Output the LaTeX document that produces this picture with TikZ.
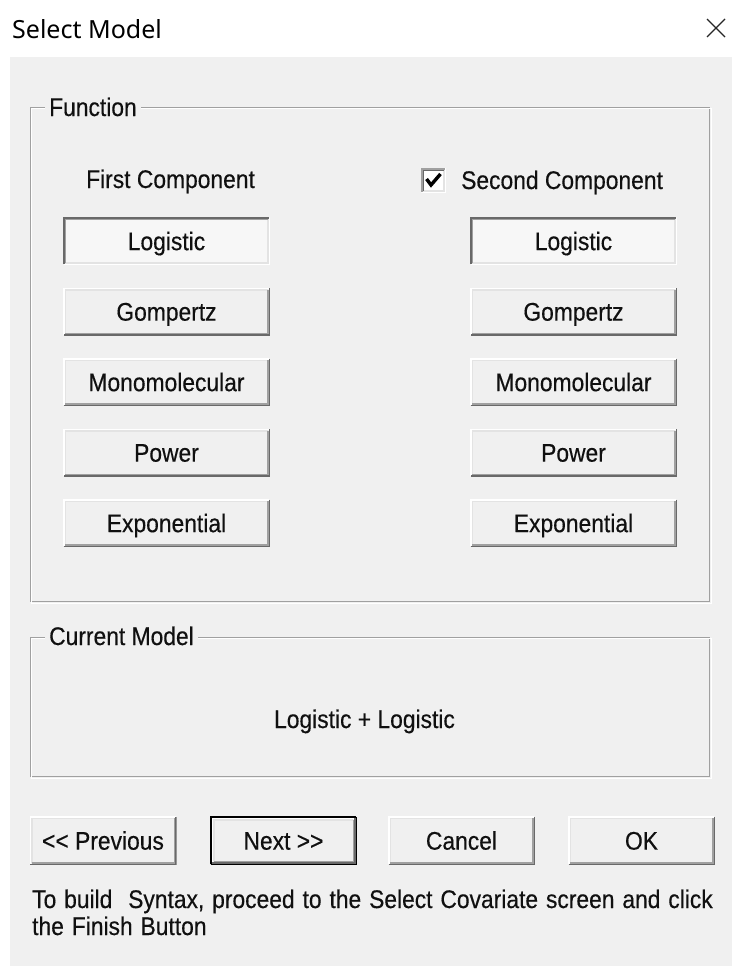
\documentclass[tikz,border=0pt]{standalone}
\usepackage{fontspec}
\setmainfont[FakeStretch=0.895, FakeBold=0.35]{Liberation Sans}
\newfontfamily\captionfont{Noto Sans}

\definecolor{panel}{HTML}{F0F0F0}
\definecolor{face}{HTML}{F0F0F0}
\definecolor{pressface}{HTML}{F7F7F7}
\definecolor{edgedark}{HTML}{696969}
\definecolor{edgemid}{HTML}{A0A0A0}
\definecolor{edgelight}{HTML}{E3E3E3}
\definecolor{etch}{HTML}{A0A0A0}
\definecolor{inktext}{HTML}{101010}

% bevel strokes inside a node: top-left L and bottom-right L
\newcommand\uiBevelTL[2]{%
  \draw[#2,line width=1.5pt]
    ([xshift=#1,yshift=#1]path picture bounding box.south west) |-
    ([xshift=-#1,yshift=-#1]path picture bounding box.north east);}
\newcommand\uiBevelBR[2]{%
  \draw[#2,line width=1.5pt]
    ([xshift=#1,yshift=#1]path picture bounding box.south west) -|
    ([xshift=-#1,yshift=-#1]path picture bounding box.north east);}

\tikzset{
  ui/.style={font=\fontsize{25.5}{27}\selectfont, text=inktext},
  caption/.style={ui, inner sep=0pt, anchor=base west},
  grouptitle/.style={ui, fill=panel, inner xsep=4pt, inner ysep=1pt, anchor=base west},
  groupframe/.style={draw=etch, line width=1.5pt, inner sep=0pt},
  btnshape/.style 2 args={ui, inner sep=0pt, minimum width=#1, minimum height=#2,
    text height=18.3pt, text depth=0pt},
  raised/.style={fill=face, path picture={
      \uiBevelTL{0.75pt}{white}\uiBevelBR{0.75pt}{edgedark}
      \uiBevelTL{2.25pt}{edgelight}\uiBevelBR{2.25pt}{edgemid}}},
  pressed/.style={fill=pressface, path picture={
      \uiBevelBR{0.75pt}{white}\uiBevelTL{0.75pt}{edgedark}
      \uiBevelBR{2.25pt}{edgelight}\uiBevelTL{2.25pt}{edgemid}}},
  defaultbtn/.style={fill=face, path picture={
      \uiBevelTL{0.75pt}{black}\uiBevelBR{0.75pt}{black}
      \uiBevelTL{2.25pt}{white}\uiBevelBR{2.25pt}{edgedark}
      \uiBevelTL{3.75pt}{edgelight}\uiBevelBR{3.75pt}{edgemid}}},
  sunkenbox/.style={fill=white, inner sep=0pt, minimum size=25pt, path picture={
      \uiBevelBR{0.75pt}{white}\uiBevelTL{0.75pt}{edgemid}
      \uiBevelBR{2.25pt}{edgelight}\uiBevelTL{2.25pt}{edgedark}}},
  fnbtn/.style={btnshape={207pt}{48pt}},
  navbtn/.style={btnshape={147pt}{49pt}},
}

\begin{document}
\begin{tikzpicture}[x=1pt,y=-1pt]
\useasboundingbox (0,0) rectangle (732,966);

% window: title bar and client area
\fill[white] (0,0) rectangle (732,966);
\fill[panel] (10,57) rectangle (732,966);
\node[anchor=base west, inner sep=0pt, text=black,
      font=\captionfont\fontsize{25}{28}\selectfont] (wintitle) at (12,38) {Select Model};
\coordinate (closeA) at (707,19);
\coordinate (closeB) at (725,37);
\coordinate (closeC) at (725,19);
\coordinate (closeD) at (707,37);
\draw[black!85, line width=1.3pt] (closeA) -- (closeB) (closeC) -- (closeD);

% "Function" group
\node[groupframe, minimum width=679pt, minimum height=494pt] (fnbox) at (370,354.5) {};
\draw[white, line width=1.2pt]
  ([xshift=1.5pt,yshift=-1.5pt]fnbox.north west) rectangle ([xshift=1.5pt,yshift=-1.5pt]fnbox.south east);
\node[grouptitle] (fntitle) at (45,116) {Function};

\node[caption] (firstlbl) at (86,188) {First Component};
\node[sunkenbox] (chk) at (433.5,180.5) {};
\coordinate (chkA) at (426.5,179);
\coordinate (chkB) at (431,185);
\coordinate (chkC) at (440.5,174);
\draw[black, line width=3.4pt, line join=miter] (chkA) -- (chkB) -- (chkC);
\node[caption] (secondlbl) at (461,189) {Second Component};

% component buttons
\node[fnbtn, pressed] (l1) at (166.5,241)   {Logistic};
\node[fnbtn, raised]  (l2) at (166.5,311.5) {Gompertz};
\node[fnbtn, raised]  (l3) at (166.5,382)   {Monomolecular};
\node[fnbtn, raised]  (l4) at (166.5,452.5) {Power};
\node[fnbtn, raised]  (l5) at (166.5,523)   {Exponential};

\node[fnbtn, pressed] (r1) at (573.5,241)   {Logistic};
\node[fnbtn, raised]  (r2) at (573.5,311.5) {Gompertz};
\node[fnbtn, raised]  (r3) at (573.5,382)   {Monomolecular};
\node[fnbtn, raised]  (r4) at (573.5,452.5) {Power};
\node[fnbtn, raised]  (r5) at (573.5,523)   {Exponential};

% "Current Model" group
\node[groupframe, minimum width=679pt, minimum height=139pt] (cmbox) at (370,707) {};
\draw[white, line width=1.2pt]
  ([xshift=1.5pt,yshift=-1.5pt]cmbox.north west) rectangle ([xshift=1.5pt,yshift=-1.5pt]cmbox.south east);
\node[grouptitle] (cmtitle) at (45,645) {Current Model};
\node[ui, inner sep=0pt, anchor=base] (model) at (364.5,728) {Logistic + Logistic};

% navigation buttons
\node[navbtn, raised]     (prev)   at (103,840.5)   {<\kern0pt< Previous};
\node[navbtn, defaultbtn] (next)   at (283.5,840.5) {Next >\kern0pt>};
\node[navbtn, raised]     (cancel) at (461.5,840.5) {Cancel};
\node[navbtn, raised]     (ok)     at (641.5,840.5) {OK};

% hint text, with slightly wider word spacing
\node[caption] (hint1) at (32,908) {\spaceskip=7.9pt To build\ \ Syntax, proceed to the Select Covariate screen and click};
\node[caption] (hint2) at (32,935) {\spaceskip=7.9pt the Finish Button};
\end{tikzpicture}
\end{document}
